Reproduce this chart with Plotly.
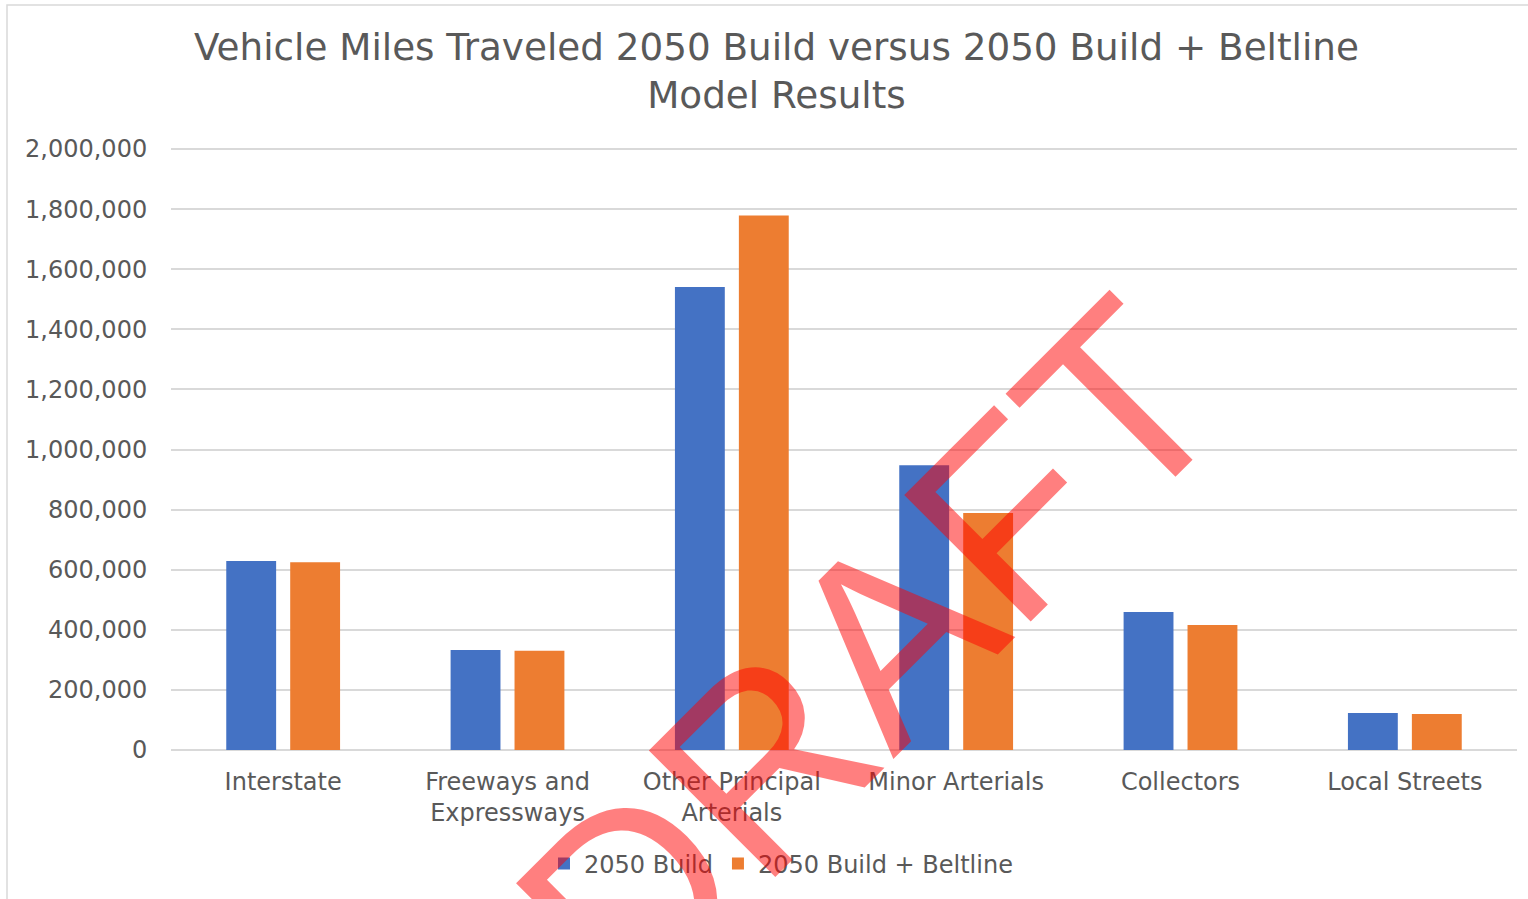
import plotly.graph_objects as go

categories = ["Interstate", "Freeways and<br>Expressways", "Other Principal<br>Arterials",
              "Minor Arterials", "Collectors", "Local Streets"]
build_2050 = [629000, 333000, 1541000, 948000, 459000, 123000]
build_beltline_2050 = [625000, 330000, 1779000, 789000, 416000, 120000]
series_names = ["2050 Build", "2050 Build + Beltline"]
tick_vals = [0, 200000, 400000, 600000, 800000, 1000000, 1200000, 1400000, 1600000, 1800000, 2000000]

W, H = 1528, 899
L, R, T, B = 171, 11, 146, 149
pw, ph = W - L - R, H - T - B

def px(x):
    return (x - L) / pw

def py(y):
    return (H - B - y) / ph

txt = "#595959"
font = "DejaVu Sans, Verdana, sans-serif"

fig = go.Figure()
fig.add_trace(go.Bar(x=categories, y=build_2050, name=series_names[0],
                     marker=dict(color="#4472C4", line=dict(width=0))))
fig.add_trace(go.Bar(x=categories, y=build_beltline_2050, name=series_names[1],
                     marker=dict(color="#ED7D31", line=dict(width=0))))

fig.update_layout(
    width=W, height=H,
    margin=dict(l=L, r=R, t=T, b=B),
    paper_bgcolor="white", plot_bgcolor="white",
    barmode="group", bargap=0.43, bargroupgap=0.22,
    font=dict(family=font, size=24, color=txt),
    showlegend=True,
    legend=dict(orientation="h", x=px(781), xanchor="center", y=py(864), yanchor="middle",
                font=dict(size=24, color=txt), bgcolor="rgba(0,0,0,0)"),
    xaxis=dict(showgrid=False, showline=False, zeroline=False,
               ticks="outside", ticklen=10, tickcolor="rgba(0,0,0,0)",
               tickfont=dict(size=24, color=txt)),
    yaxis=dict(range=[0, 2010000], tickvals=tick_vals, tickformat=",d",
               showgrid=True, gridcolor="#D9D9D9", gridwidth=1.5,
               zeroline=True, zerolinecolor="#D9D9D9", zerolinewidth=1.5,
               showline=False, ticks="outside", ticklen=18, tickcolor="rgba(0,0,0,0)",
               tickfont=dict(size=24, color=txt)),
    shapes=[dict(type="rect", xref="paper", yref="paper",
                 x0=px(7), x1=px(1560), y0=py(940), y1=py(5),
                 line=dict(color="#D9D9D9", width=1.5), fillcolor="rgba(0,0,0,0)", layer="below")],
    annotations=[
        dict(text="Vehicle Miles Traveled 2050 Build versus 2050 Build + Beltline<br>Model Results",
             xref="paper", yref="paper", x=px(776), y=py(71), xanchor="center", yanchor="middle",
             showarrow=False, font=dict(family=font, size=37.3, color=txt)),
        dict(text="DRAFT", xref="paper", yref="paper", x=px(870), y=py(655),
             xanchor="center", yanchor="middle", showarrow=False, textangle=-45,
             font=dict(family="Liberation Sans, Arial, sans-serif", size=260,
                       color="rgba(255,0,0,0.5)")),
    ],
)

fig.write_html("out.html", config={"displayModeBar": False},
               post_script="document.body.style.margin='0';document.body.style.padding='0';")
